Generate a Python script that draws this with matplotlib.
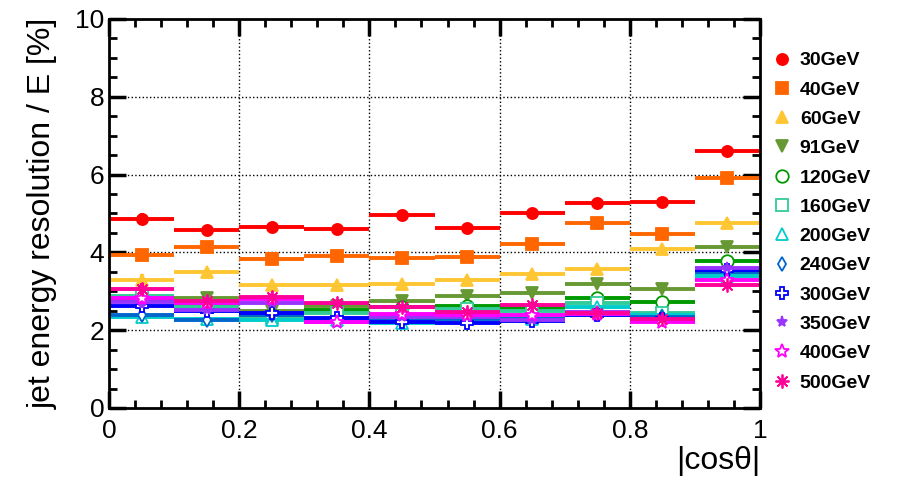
import numpy as np
import matplotlib.pyplot as plt
from matplotlib.ticker import MultipleLocator, FormatStrFormatter

plt.rcParams['font.family'] = ['Liberation Sans', 'DejaVu Sans']

# |cos theta| bins
bin_edges = np.linspace(0, 1, 11)
bin_centers = 0.5 * (bin_edges[:-1] + bin_edges[1:])

labels = ['30GeV', '40GeV', '60GeV', '91GeV', '120GeV', '160GeV',
          '200GeV', '240GeV', '300GeV', '350GeV', '400GeV', '500GeV']

res_30 = [4.85, 4.57, 4.65, 4.60, 4.97, 4.63, 5.00, 5.27, 5.30, 6.60]
res_40 = [3.93, 4.15, 3.83, 3.90, 3.85, 3.87, 4.22, 4.75, 4.47, 5.92]
res_60 = [3.30, 3.50, 3.17, 3.15, 3.20, 3.28, 3.45, 3.57, 4.08, 4.75]
res_91 = [2.80, 2.83, 2.50, 2.62, 2.75, 2.88, 2.95, 3.18, 3.05, 4.15]
res_120 = [2.75, 2.65, 2.40, 2.52, 2.60, 2.63, 2.58, 2.83, 2.72, 3.78]
res_160 = [2.89, 2.60, 2.32, 2.45, 2.40, 2.55, 2.50, 2.70, 2.44, 3.45]
res_200 = [2.35, 2.30, 2.26, 2.25, 2.18, 2.35, 2.30, 2.60, 2.38, 3.40]
res_240 = [2.39, 2.26, 2.38, 2.28, 2.25, 2.30, 2.30, 2.45, 2.35, 3.50]
res_300 = [2.63, 2.50, 2.44, 2.31, 2.22, 2.18, 2.24, 2.40, 2.30, 3.55]
res_350 = [2.73, 2.52, 2.70, 2.20, 2.35, 2.35, 2.26, 2.48, 2.25, 3.60]
res_400 = [2.83, 2.70, 2.80, 2.20, 2.42, 2.40, 2.38, 2.42, 2.22, 3.29]
res_500 = [3.06, 2.75, 2.85, 2.70, 2.60, 2.48, 2.65, 2.44, 2.29, 3.16]
y_err = [0.15, 0.05, 0.05, 0.05, 0.05, 0.05, 0.05, 0.05, 0.05, 0.06]

series = [res_30, res_40, res_60, res_91, res_120, res_160,
          res_200, res_240, res_300, res_350, res_400, res_500]

colors = ['#ff0000', '#ff6600', '#ffc633', '#669933', '#009900', '#33cc99',
          '#00cccc', '#0066cc', '#0000ff', '#9933ff', '#ff00ff', '#ff0099']
markers = ['o', 's', '^', 'v', 'o', 's', '^', 'd', 'P', '*', '*', (8, 2, 0)]
filled = [True, True, True, True, False, False, False, False, False, True, False, True]
msizes = [8, 8, 8, 8, 9, 8, 8, 7, 9, 8, 10, 10]

fig = plt.figure(figsize=(9.04, 4.83), dpi=100)
ax = fig.add_axes([0.1206, 0.1553, 0.7201, 0.8054])

for vals, c, m, f, ms, lab in zip(series, colors, markers, filled, msizes, labels):
    ax.errorbar(bin_centers, vals, xerr=0.05, yerr=y_err, fmt='none',
                ecolor=c, elinewidth=2.8, capsize=0)
    ax.plot(bin_centers, vals, linestyle='none', marker=m, color=c,
            markersize=ms, markerfacecolor=c if f else 'white',
            markeredgecolor=c, markeredgewidth=1.3, label=lab)

ax.set_xlim(0, 1)
ax.set_ylim(0, 10)
ax.xaxis.set_major_locator(MultipleLocator(0.2))
ax.xaxis.set_minor_locator(MultipleLocator(0.04))
ax.yaxis.set_major_locator(MultipleLocator(2))
ax.yaxis.set_minor_locator(MultipleLocator(0.5))
ax.xaxis.set_major_formatter(FormatStrFormatter('%g'))
ax.tick_params(which='both', direction='in', top=True, right=True, labelsize=19)
ax.tick_params(axis='x', pad=8)
ax.tick_params(which='major', length=12, width=2.5)
ax.tick_params(which='minor', length=6, width=2)
for sp in ax.spines.values():
    sp.set_linewidth(2)
ax.grid(True, which='major', color='black', linestyle=':', linewidth=1)

ax.set_ylabel('jet energy resolution / E [%]', fontsize=23, labelpad=12)
ax.set_xlabel('|cosθ|', fontsize=23, loc='right', labelpad=2)

leg = ax.legend(loc='upper left', bbox_to_anchor=(1.0, 0.943), frameon=False,
                prop={'weight': 'bold', 'size': 14}, handletextpad=0.3,
                labelspacing=0.6, borderaxespad=0.15, handlelength=1.2)

fig.savefig('out.png', dpi=100)
